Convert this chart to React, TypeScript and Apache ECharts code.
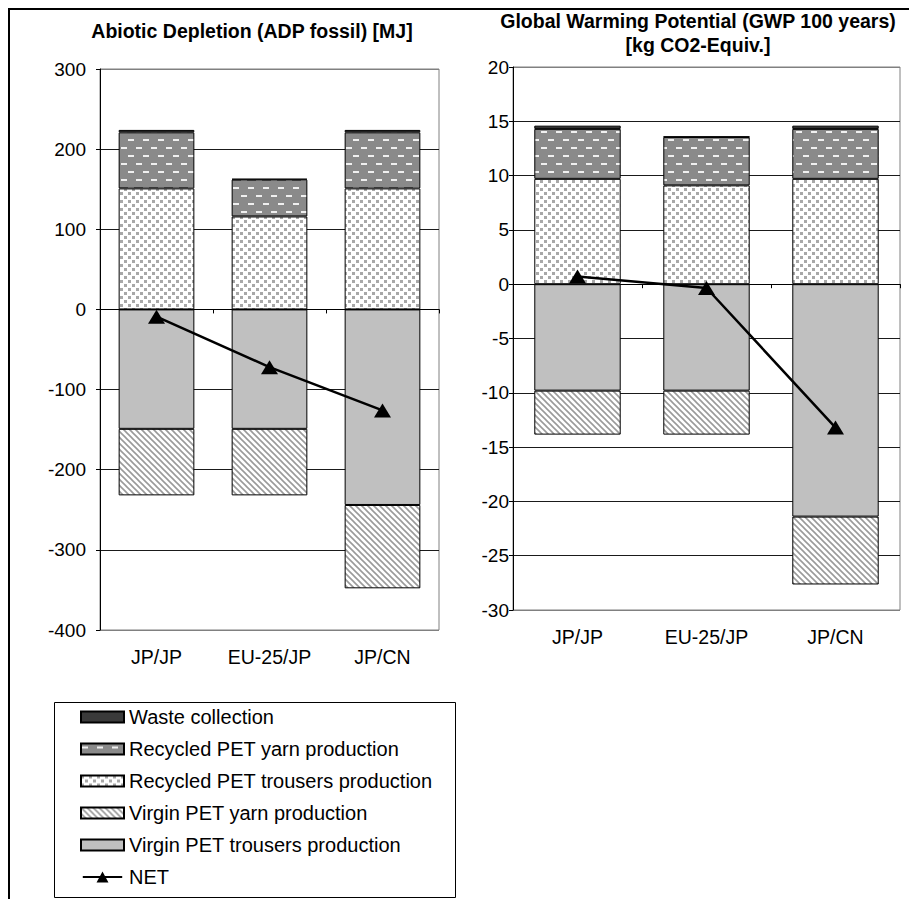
import React, { useEffect, useRef } from "react";
import * as echarts from "echarts";

// Scenarios (recycled trousers made in / virgin trousers made in)
const categories = ["JP/JP", "EU-25/JP", "JP/CN"];

// Abiotic Depletion (ADP fossil) [MJ]
const adpWaste = [3, 1, 3];
const adpRecYarn = [70, 46, 70];
const adpRecTrousers = [151, 116, 151];
const adpVirginYarn = [-83, -83, -104];
const adpVirginTrousers = [-149, -149, -244];
const adpNet = [-9, -72, -126];

// Global Warming Potential (GWP 100 years) [kg CO2-Equiv.]
const gwpWaste = [0.3, 0.05, 0.3];
const gwpRecYarn = [4.6, 4.45, 4.6];
const gwpRecTrousers = [9.7, 9.1, 9.7];
const gwpVirginYarn = [-4.05, -4.05, -6.25];
const gwpVirginTrousers = [-9.8, -9.8, -21.4];
const gwpNet = [0.7, -0.35, -13.2];

const adpTicks = { min: -400, max: 300, interval: 100 };
const gwpTicks = { min: -30, max: 20, interval: 5 };

const NAMES = {
  waste: "Waste collection",
  recYarn: "Recycled PET yarn production",
  recTrousers: "Recycled PET trousers production",
  virginYarn: "Virgin PET yarn production",
  virginTrousers: "Virgin PET trousers production",
  net: "NET",
};

const FONT = "'Liberation Sans', Arial, sans-serif";

// Legend glyph for the NET line: a bar with a triangle marker in the middle
const NET_ICON = "path://M0,5 L43,5 L43,7 L0,7 Z M21.5,0 L28,12 L15,12 Z";

function tile(w: number, h: number, draw: (ctx: CanvasRenderingContext2D) => void) {
  const c = document.createElement("canvas");
  c.width = w;
  c.height = h;
  const ctx = c.getContext("2d")!;
  draw(ctx);
  return { image: c, repeat: "repeat", imageWidth: w, imageHeight: h } as any;
}

function makePatterns() {
  const dashes = tile(15, 16, (ctx) => {
    ctx.fillStyle = "#8a8a8a";
    ctx.fillRect(0, 0, 15, 16);
    ctx.fillStyle = "#f0f0f0";
    ctx.fillRect(1, 3, 6, 2);
    ctx.fillRect(8, 11, 6, 2);
  });
  const dots = tile(8, 8, (ctx) => {
    ctx.fillStyle = "#ffffff";
    ctx.fillRect(0, 0, 8, 8);
    ctx.fillStyle = "#a8a8a8";
    ctx.fillRect(0, 0, 3, 3);
    ctx.fillRect(4, 4, 3, 3);
  });
  const diag = tile(6, 6, (ctx) => {
    ctx.fillStyle = "#ffffff";
    ctx.fillRect(0, 0, 6, 6);
    ctx.strokeStyle = "#9a9a9a";
    ctx.lineWidth = 1.6;
    ctx.beginPath();
    ctx.moveTo(-1, -1);
    ctx.lineTo(7, 7);
    ctx.moveTo(-1, 5);
    ctx.lineTo(1, 7);
    ctx.moveTo(5, -1);
    ctx.lineTo(7, 1);
    ctx.stroke();
  });
  return { dashes, dots, diag };
}

function buildOption() {
  const p = makePatterns();
  const fills: Record<string, any> = {
    waste: "#3a3a3a",
    recYarn: p.dashes,
    recTrousers: p.dots,
    virginYarn: p.diag,
    virginTrousers: "#c0c0c0",
  };

  const barSeries = (
    grid: number,
    key: keyof typeof NAMES,
    data: number[]
  ) => ({
    type: "bar",
    name: NAMES[key],
    xAxisIndex: grid * 2,
    yAxisIndex: grid,
    stack: "total" + grid,
    barWidth: "67%",
    data,
    z: 2,
    itemStyle: { color: fills[key], borderColor: "#000", borderWidth: 1 },
  });

  const netSeries = (grid: number, data: number[]) => ({
    type: "line",
    name: NAMES.net,
    xAxisIndex: grid * 2,
    yAxisIndex: grid,
    data,
    z: 5,
    symbol: "triangle",
    symbolSize: [17, 14],
    lineStyle: { color: "#000", width: 2.5 },
    itemStyle: { color: "#000" },
  });

  const grids = [
    { left: 100, top: 69, width: 339, height: 561 },
    { left: 513, top: 67, width: 387, height: 543 },
  ];

  const xAxes: any[] = [];
  grids.forEach((_, g) => {
    xAxes.push({
      gridIndex: g,
      type: "category",
      data: categories,
      axisLine: { onZero: true, lineStyle: { color: "#000", width: 1 } },
      axisTick: { show: true, length: 4, interval: 0, lineStyle: { color: "#000" } },
      axisLabel: { show: false },
      splitLine: { show: false },
    });
    xAxes.push({
      gridIndex: g,
      type: "category",
      position: "bottom",
      data: categories,
      axisLine: { show: false, onZero: false },
      axisTick: { show: false },
      axisLabel: { color: "#000", fontSize: 19.5, fontFamily: FONT, margin: 17 },
      splitLine: { show: false },
    });
  });

  const yAxis = (g: number, t: { min: number; max: number; interval: number }, margin: number) => {
    const n = Math.round((t.max - t.min) / t.interval);
    const colors = Array.from({ length: n + 1 }, (_, i) =>
      i === 0 || i === n ? "#808080" : "#1a1a1a"
    );
    return {
      gridIndex: g,
      type: "value",
      min: t.min,
      max: t.max,
      interval: t.interval,
      axisLine: { show: true, lineStyle: { color: "#000", width: 1 } },
      axisTick: { show: true, length: 4, lineStyle: { color: "#000" } },
      axisLabel: { color: "#000", fontSize: 19, fontFamily: FONT, margin },
      splitLine: { show: true, lineStyle: { color: colors, width: 1 } },
    };
  };

  const legendData = [
    { name: NAMES.waste, icon: "rect" },
    { name: NAMES.recYarn, icon: "rect" },
    { name: NAMES.recTrousers, icon: "rect" },
    { name: NAMES.virginYarn, icon: "rect" },
    { name: NAMES.virginTrousers, icon: "rect" },
    { name: NAMES.net, icon: NET_ICON },
  ];

  return {
    animation: false,
    backgroundColor: "#ffffff",
    textStyle: { fontFamily: FONT, color: "#000" },
    grid: grids.map((g) => ({
      ...g,
      show: true,
      backgroundColor: "#ffffff",
      borderColor: "#808080",
      borderWidth: 1,
    })),
    xAxis: xAxes,
    yAxis: [yAxis(0, adpTicks, 14), yAxis(1, gwpTicks, 4)],
    legend: {
      orient: "vertical",
      left: 80,
      top: 707,
      padding: 0,
      itemWidth: 43,
      itemHeight: 11,
      itemGap: 12,
      selectedMode: false,
      data: legendData,
      textStyle: { fontSize: 20, lineHeight: 20, color: "#000", fontFamily: FONT },
    },
    graphic: [
      {
        type: "line",
        shape: { x1: 8, y1: 9, x2: 909, y2: 9 },
        style: { stroke: "#000", lineWidth: 2 },
      },
      {
        type: "line",
        shape: { x1: 9, y1: 8, x2: 9, y2: 899 },
        style: { stroke: "#000", lineWidth: 2 },
      },
      {
        type: "rect",
        shape: { x: 54.5, y: 702.5, width: 401, height: 195 },
        style: { fill: "none", stroke: "#000", lineWidth: 1 },
      },
      {
        type: "text",
        x: 252,
        y: 31,
        style: {
          text: "Abiotic Depletion (ADP fossil) [MJ]",
          font: `bold 19.5px ${FONT}`,
          fill: "#000",
          textAlign: "center",
          textVerticalAlign: "middle",
        },
      },
      {
        type: "text",
        x: 698,
        y: 21,
        style: {
          text: "Global Warming Potential (GWP 100 years)",
          font: `bold 19.5px ${FONT}`,
          fill: "#000",
          textAlign: "center",
          textVerticalAlign: "middle",
        },
      },
      {
        type: "text",
        x: 698,
        y: 45,
        style: {
          text: "[kg CO2-Equiv.]",
          font: `bold 19.5px ${FONT}`,
          fill: "#000",
          textAlign: "center",
          textVerticalAlign: "middle",
        },
      },
    ],
    series: [
      barSeries(0, "recTrousers", adpRecTrousers),
      barSeries(0, "recYarn", adpRecYarn),
      barSeries(0, "waste", adpWaste),
      barSeries(0, "virginTrousers", adpVirginTrousers),
      barSeries(0, "virginYarn", adpVirginYarn),
      netSeries(0, adpNet),
      barSeries(1, "recTrousers", gwpRecTrousers),
      barSeries(1, "recYarn", gwpRecYarn),
      barSeries(1, "waste", gwpWaste),
      barSeries(1, "virginTrousers", gwpVirginTrousers),
      barSeries(1, "virginYarn", gwpVirginYarn),
      netSeries(1, gwpNet),
    ],
  };
}

export default function App() {
  const ref = useRef<HTMLDivElement>(null);
  useEffect(() => {
    if (!ref.current) return;
    const chart = echarts.init(ref.current, undefined, { renderer: "svg" });
    chart.setOption(buildOption() as any);
    return () => chart.dispose();
  }, []);
  return (
    <div
      ref={ref}
      style={{
        position: "fixed",
        left: 0,
        top: 0,
        width: 909,
        height: 899,
        background: "#fff",
      }}
    />
  );
}
